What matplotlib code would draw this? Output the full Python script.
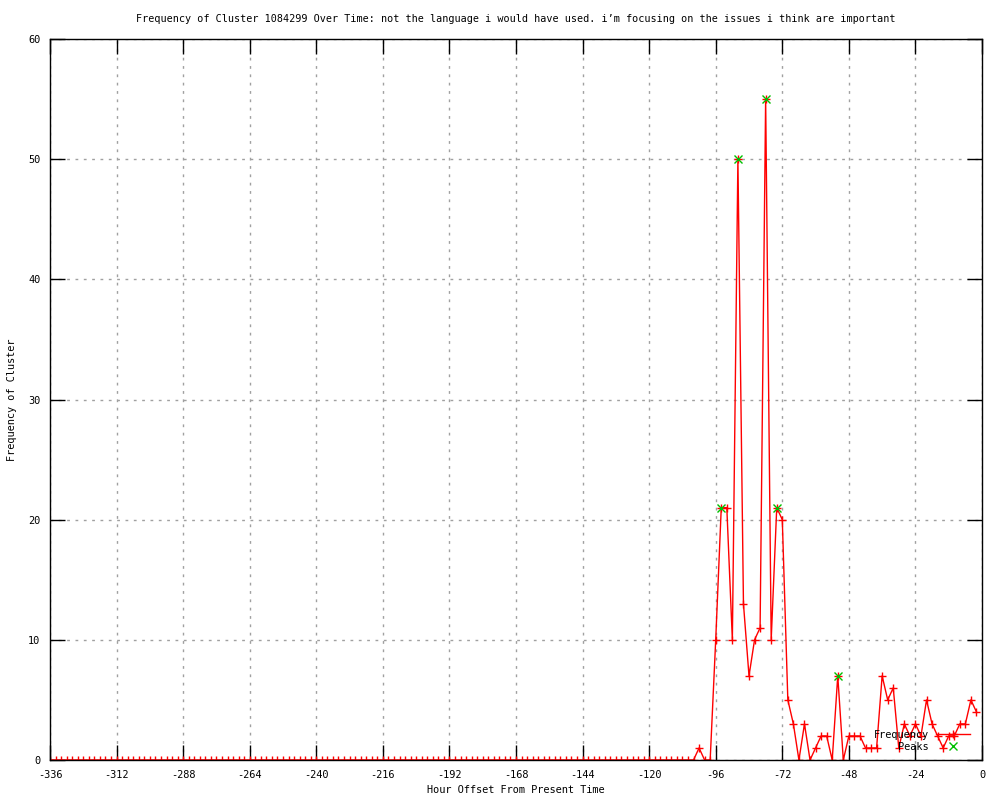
import numpy as np
import matplotlib.pyplot as plt

# hourly offsets, sampled every 2 hours
hours = np.arange(-336, 0, 2)

# nonzero part of the series, from -102 to -2
tail_hours = list(range(-102, 0, 2))
tail_vals = [1, 0, 0, 10, 21, 21, 10, 50, 13, 7, 10, 11, 55, 10, 21, 20,
             5, 3, 0, 3, 0, 1, 2, 2, 0, 7, 0, 2, 2, 2, 1, 1, 1, 7, 5, 6,
             1, 3, 2, 3, 2, 5, 3, 2, 1, 2, 2, 3, 3, 5, 4]

freq = np.zeros(len(hours))
for h, v in zip(tail_hours, tail_vals):
    freq[hours == h] = v

peak_hours = [-94, -88, -78, -74, -52]
peak_vals = [21, 50, 55, 21, 7]

title = ("Frequency of Cluster 1084299 Over Time: not the language i would have used. "
         "i\u2019m focusing on the issues i think are important")

plt.rcParams['font.family'] = ['DejaVu Sans Mono']
plt.rcParams['font.size'] = 7.4
plt.rcParams['axes.unicode_minus'] = False

fig = plt.figure(figsize=(10, 8), dpi=100)
ax = fig.add_axes([0.05, 0.05, 0.932, 0.90125])

ax.plot(hours, freq, color='red', lw=1, marker='+', ms=6, mew=1, label='Frequency')
ax.plot(peak_hours, peak_vals, ls='none', marker='x', color='#00c000', ms=6, mew=1, label='Peaks')

ax.set_xlim(-336, 0)
ax.set_ylim(0, 60)
ax.set_xticks(np.arange(-336, 1, 24))
ax.set_yticks(np.arange(0, 61, 10))
ax.tick_params(direction='in', length=11, width=1, top=True, right=True, pad=7)
ax.grid(True, color='#a0a0a0', ls=(0, (2, 4)), lw=1)
for s in ax.spines.values():
    s.set_linewidth(1)

ax.set_title(title, fontsize=7.3, pad=12)
ax.set_xlabel('Hour Offset From Present Time', labelpad=4)
ax.set_ylabel('Frequency of Cluster', labelpad=8)

leg = ax.legend(loc='lower right', bbox_to_anchor=(0.995, 0.001), frameon=False,
                markerfirst=False, handlelength=3.3, handletextpad=0.7,
                labelspacing=0.25, borderpad=0.2)
for t in leg.get_texts():
    t.set_ha('right')

fig.savefig('out.png', dpi=100)
